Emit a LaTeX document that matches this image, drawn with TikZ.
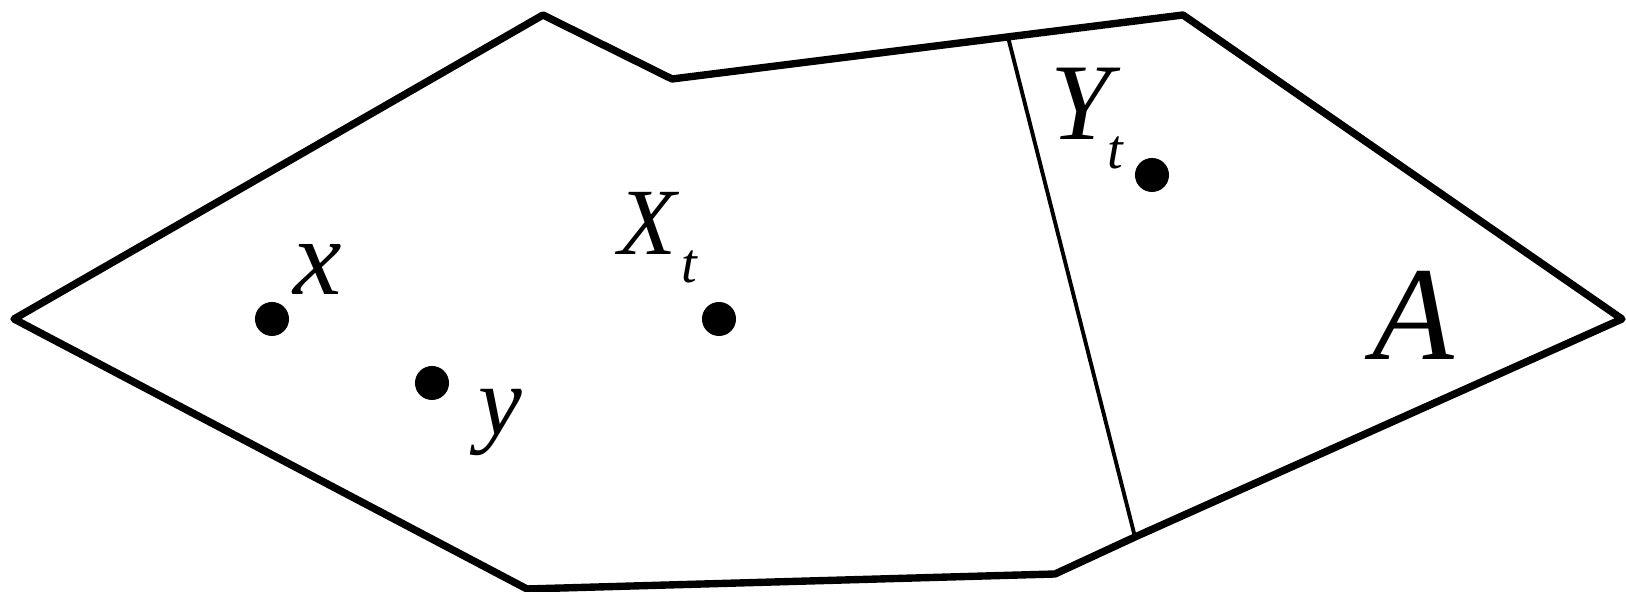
\documentclass[tikz,border=0pt]{standalone}
\usepackage{fontspec}
\setmainfont{Liberation Serif}[ItalicFont={Liberation Serif Italic}]
\usetikzlibrary{positioning}

\begin{document}
\begin{tikzpicture}[
  x=0.01cm, y=-0.01cm,
  border/.style={line width=2.1pt, line join=round},
  cut/.style={line width=1.1pt},
  pt/.style={circle, fill, inner sep=0pt, minimum size=0.34cm},
  lbl/.style={inner sep=0pt, anchor=base west}
]
\useasboundingbox (0,0) rectangle (1626,592);
% outline of the region
\coordinate (w) at (14,319);
\coordinate (n1) at (543,15);
\coordinate (n2) at (672,79);
\coordinate (n3) at (1183,15);
\coordinate (e) at (1622,319);
\coordinate (s1) at (1135,537);
\coordinate (s2) at (1055,574);
\coordinate (s3) at (527,589);
\coordinate (cuttop) at (1008,37);
\draw[border] (w) -- (n1) -- (n2) -- (n3) -- (e) -- (s1) -- (s2) -- (s3) -- cycle;
\draw[cut] (cuttop) -- (s1);
% points
\node[pt] (px) at (272,319) {};
\node[pt] (py) at (432,383) {};
\node[pt] (pxt) at (719,319) {};
\node[pt] (pyt) at (1152,175) {};
% labels
\node[lbl, font=\fontsize{31}{31}\selectfont\itshape] (lx) at (293,295) {x};
\node[lbl, font=\fontsize{28}{28}\selectfont\itshape] (ly) at (478,435) {y};
\node[lbl, font=\fontsize{27}{27}\selectfont\itshape] (lxt) at (618,255)
  {X\kern0.05cm\raisebox{-0.27cm}{\fontsize{16}{16}\selectfont t}};
\node[lbl, font=\fontsize{31}{31}\selectfont\itshape] (lyt) at (1050,140)
  {Y\kern-0.04cm\raisebox{-0.28cm}{\fontsize{16}{16}\selectfont t}};
\node[lbl, font=\fontsize{38}{38}\selectfont\itshape] (la) at (1372,360) {A};
\end{tikzpicture}
\end{document}
